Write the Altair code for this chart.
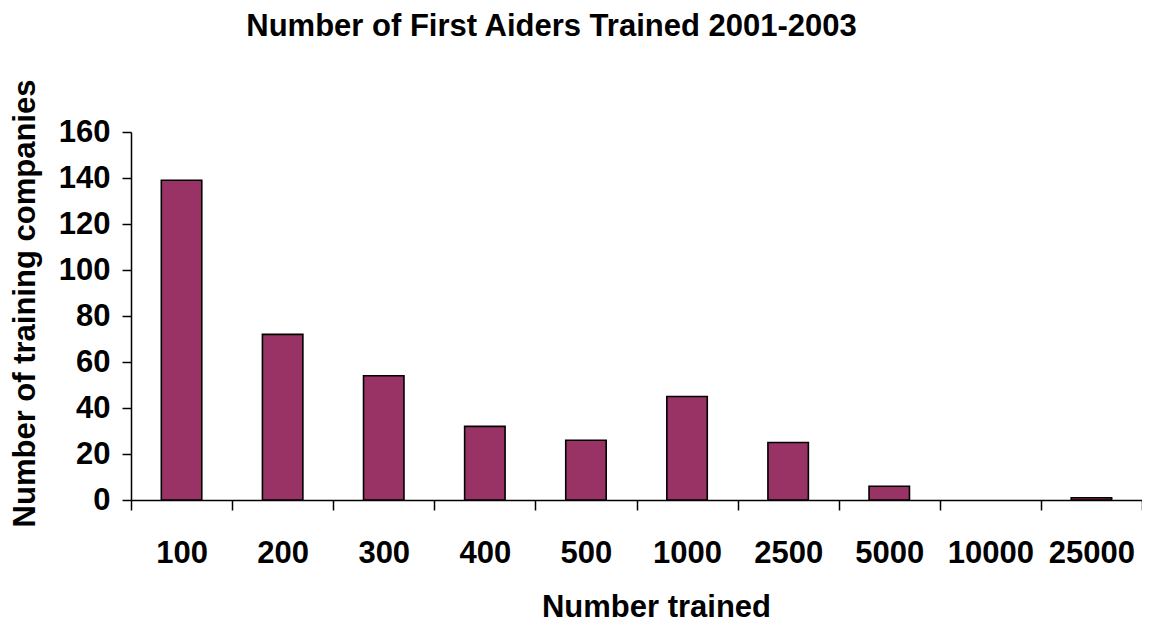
import altair as alt
import pandas as pd

categories = ["100", "200", "300", "400", "500", "1000", "2500", "5000", "10000", "25000"]
companies = [139, 72, 54, 32, 26, 45, 25, 6, 0, 1]

df = pd.DataFrame({"trained": categories, "companies": companies})

FONT = "Liberation Sans"

chart = alt.Chart(df).transform_filter(
    "datum.companies > 0"
).mark_bar(
    color="#993366", stroke="black", strokeWidth=1.6,
    width=alt.RelativeBandSize(0.4)
).encode(
    x=alt.X("trained:N", sort=categories,
            scale=alt.Scale(domain=categories, paddingInner=0, paddingOuter=0),
            axis=alt.Axis(title="Number trained", labelAngle=0, tickBand="extent",
                          tickSize=10, labelPadding=28, titlePadding=24, titleX=525,
                          labelFontSize=31, titleFontSize=31)),
    y=alt.Y("companies:Q", scale=alt.Scale(domain=[0, 160], nice=False),
            axis=alt.Axis(title="Number of training companies", values=list(range(0, 161, 20)),
                          tickSize=9, labelPadding=12, titlePadding=17, titleY=171,
                          labelFontSize=31, titleFontSize=31, grid=False)),
).properties(
    width=1011, height=368,
    title=alt.TitleParams("Number of First Aiders Trained 2001-2003", fontSize=31,
                          font=FONT, fontWeight="bold", color="black",
                          offset=36, dx=-85),
    autosize=alt.AutoSizeParams(type="none"),
    padding={"left": 123, "top": 124, "right": 0, "bottom": 122},
).configure_axis(
    labelFont=FONT, titleFont=FONT, labelFontWeight="bold", titleFontWeight="bold",
    labelColor="black", titleColor="black", domainColor="black", tickColor="black",
    domainWidth=1.5, tickWidth=1.5,
).configure_view(stroke=None)

chart.save("out.html", embed_options={"renderer": "svg", "actions": False})
